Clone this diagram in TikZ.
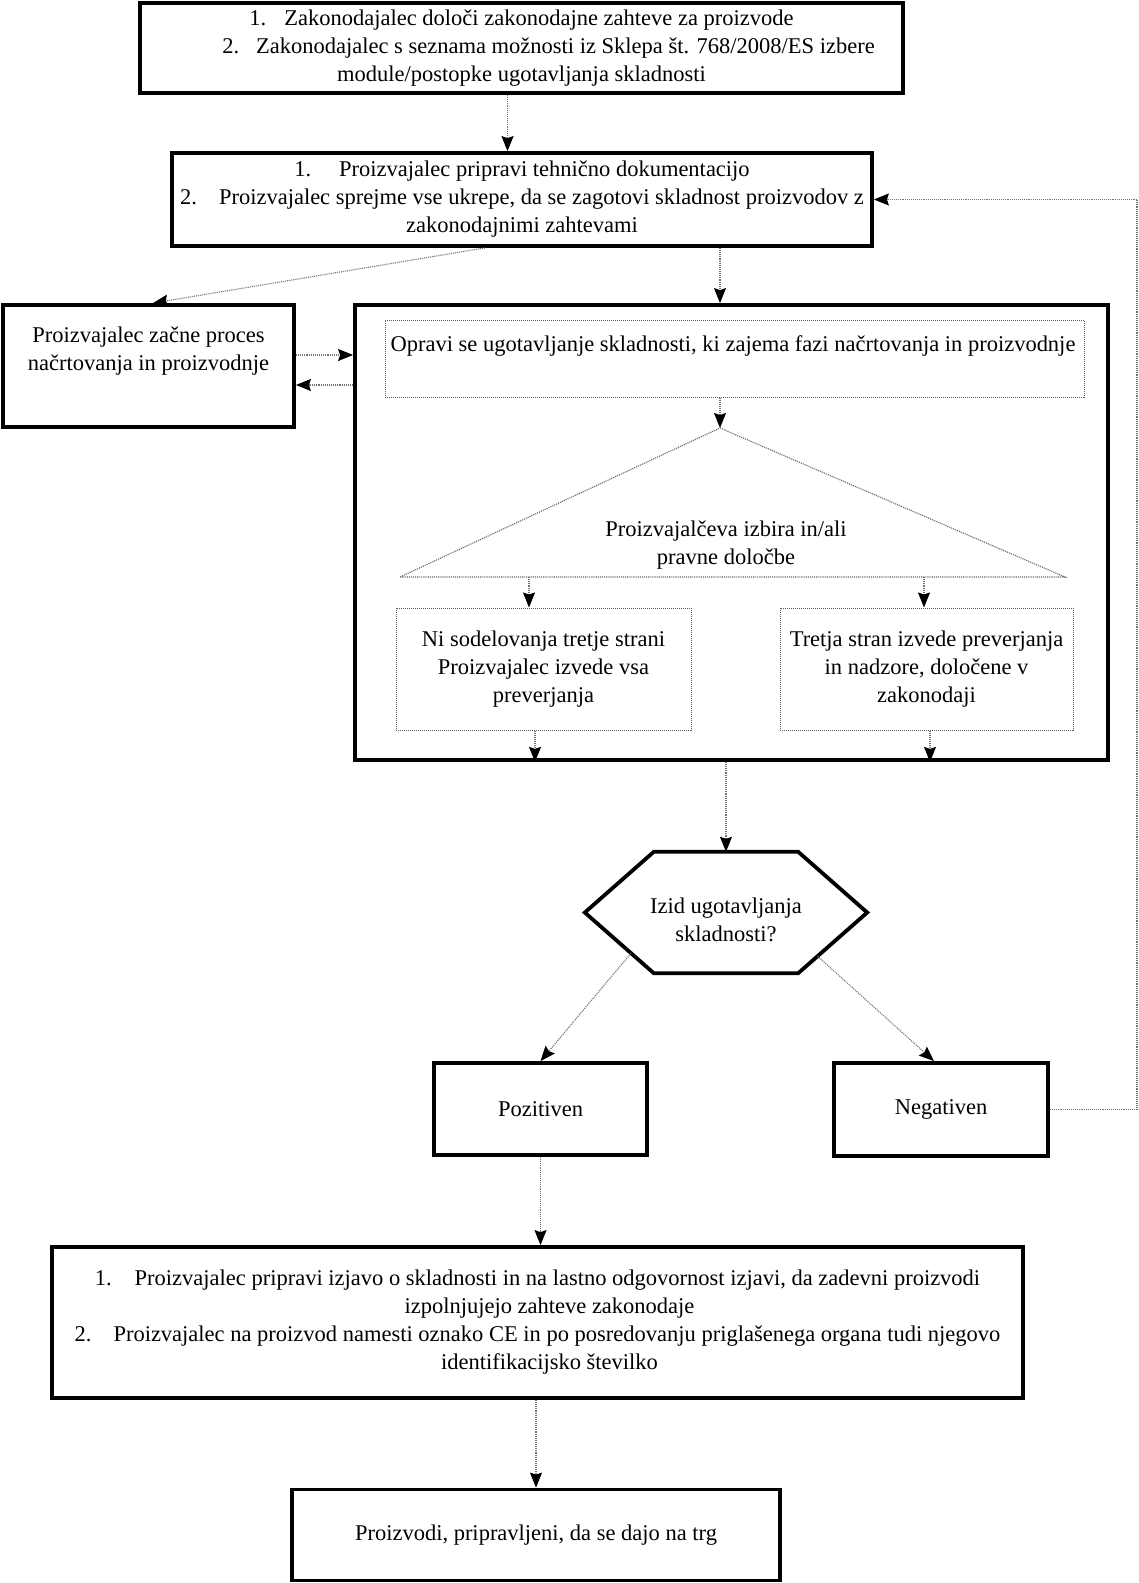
\documentclass[tikz,border=0pt]{standalone}
\usepackage{fontspec}
\setmainfont{Liberation Serif}
\usetikzlibrary{arrows.meta,calc}
\tikzset{
  thickbox/.style={draw=black, line width=3.8pt, rectangle, inner sep=0pt, align=center},
  dotbox/.style={draw=black!65, densely dotted, line width=1pt, rectangle, inner sep=0pt, align=center},
  conn/.style={draw=black!55, densely dotted, line width=1.1pt, -{Stealth[length=15pt,width=12pt,inset=2pt,color=black]}},
  plainline/.style={draw=black!60, densely dotted, line width=1.1pt},
  txt/.style={align=center, inner sep=0pt},
}
\begin{document}
\begin{tikzpicture}[x=1pt,y=-1pt, every node/.append style={font=\fontsize{22.5pt}{28pt}\selectfont}]
\useasboundingbox (0,0) rectangle (1139,1583);
\fill[white] (0,0) rectangle (1139,1583);

% top boxes
\node[thickbox, minimum width=763pt, minimum height=90pt] (B1) at (521.5,48)
  {1.\hspace{18pt}Zakonodajalec določi zakonodajne zahteve za proizvode\\
   \hspace*{54pt}2.\hspace{17pt}Zakonodajalec s seznama možnosti iz Sklepa št. 768/2008/ES izbere\\
   module/postopke ugotavljanja skladnosti};
\node[thickbox, minimum width=700pt, minimum height=93pt] (B2) at (522,199.5)
  {1.\hspace{28pt}Proizvajalec pripravi tehnično dokumentacijo\\
   2.\hspace{22pt}Proizvajalec sprejme vse ukrepe, da se zagotovi skladnost proizvodov z\\
   zakonodajnimi zahtevami};

% left box
\node[thickbox, minimum width=291pt, minimum height=122pt] (L) at (148.5,366) {};
\node[txt] (Ltxt) at (148.5,351) {Proizvajalec začne proces\\načrtovanja in proizvodnje};

% big box
\node[thickbox, minimum width=753pt, minimum height=455pt] (B) at (731.5,532.5) {};
\node[dotbox, minimum width=699pt, minimum height=77pt] (O) at (734.5,358.5) {};
\node[txt] (Otxt) at (733,346) {Opravi se ugotavljanje skladnosti, ki zajema fazi načrtovanja in proizvodnje};

% triangle
\coordinate (Tap) at (720,428);
\coordinate (Tl) at (400,577);
\coordinate (Tr) at (1065,577);
\draw[plainline] (Tl) -- (Tap) -- (Tr) -- cycle;
\node[txt] (Ttxt) at (726,545) {Proizvajalčeva izbira in/ali\\pravne določbe};
\coordinate (TbL) at (529,577);
\coordinate (TbR) at (924,577);

\node[dotbox, minimum width=295pt, minimum height=122pt] (SL) at (543.5,669)
  {Ni sodelovanja tretje strani\\Proizvajalec izvede vsa\\preverjanja};
\node[dotbox, minimum width=293pt, minimum height=122pt] (SR) at (926.5,669)
  {Tretja stran izvede preverjanja\\in nadzore, določene v\\zakonodaji};

% hexagon
\node[minimum width=282pt, minimum height=121pt, inner sep=0pt] (H) at (726,912.5) {};
\coordinate (Hnw) at ([xshift=69pt]H.north west);
\coordinate (Hne) at ([xshift=-69pt]H.north east);
\coordinate (Hsw) at ([xshift=69pt]H.south west);
\coordinate (Hse) at ([xshift=-69pt]H.south east);
\draw[line width=3.8pt, line join=miter] (H.west) -- (Hnw) -- (Hne) -- (H.east) -- (Hse) -- (Hsw) -- cycle;
\node[txt] (Htxt) at (726,920) {Izid ugotavljanja\\skladnosti?};

\node[thickbox, minimum width=213pt, minimum height=92pt] (P) at (540.5,1109) {Pozitiven};
\node[thickbox, minimum width=214pt, minimum height=93pt] (N) at (941,1109.5) {Negativen};

\node[thickbox, minimum width=971pt, minimum height=151pt] (D) at (537.5,1322.5)
  {1.\hspace{23pt}Proizvajalec pripravi izjavo o skladnosti in na lastno odgovornost izjavi, da zadevni proizvodi\\
   \hspace*{24pt}izpolnjujejo zahteve zakonodaje\\
   2.\hspace{22pt}Proizvajalec na proizvod namesti oznako CE in po posredovanju priglašenega organa tudi njegovo\\
   \hspace*{24pt}identifikacijsko številko};
\node[thickbox, minimum width=488pt, minimum height=91pt] (F) at (536,1535) {Proizvodi, pripravljeni, da se dajo na trg};

% connectors
\draw[conn] ([xshift=-14pt]B1.south) -- ([xshift=-14pt]B1.south |- B2.north);
\draw[conn] ([xshift=-37pt]B2.south) -- ([xshift=4.5pt]L.north);
\draw[conn] (B2.south -| Tap) -- (B.north -| Tap);
\draw[conn] ([yshift=11pt]L.east) -- ([yshift=11pt]L.east -| B.west);
\draw[conn] ([yshift=-19pt]L.east -| B.west) -- ([yshift=-19pt]L.east);
\draw[conn] (O.south -| Tap) -- (Tap);
\draw[conn] (TbL) -- (TbL |- SL.north);
\draw[conn] (TbR) -- (TbR |- SR.north);
\draw[conn] ([xshift=-8.5pt]SL.south) -- ([xshift=-8.5pt]SL.south |- B.south);
\draw[conn] ([xshift=3.5pt]SR.south) -- ([xshift=3.5pt]SR.south |- B.south);
\draw[conn] (B.south -| H.north) -- (H.north);
\draw[conn] ($(H.west)!0.67!(Hsw)$) -- (P.north);
\draw[conn] ($(H.east)!0.72!(Hse)$) -- ([xshift=-7pt]N.north);
\coordinate (rail) at (1137,1107);
\draw[conn] (N.east) -- (N.east -| rail) -- (B2.east -| rail) -- (B2.east);
\draw[conn] (P.south) -- (P.south |- D.north);
\draw[conn] (F.north |- D.south) -- (F.north);
\end{tikzpicture}
\end{document}
